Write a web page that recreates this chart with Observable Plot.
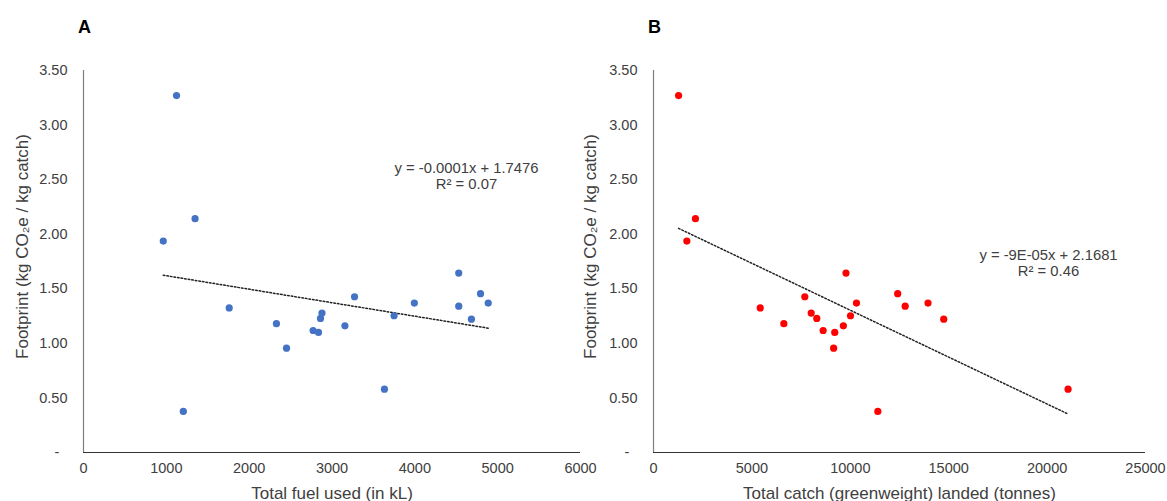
<!DOCTYPE html>
<html>
<head>
<meta charset="utf-8">
<script src="https://cdn.jsdelivr.net/npm/d3@7"></script>
<script src="https://cdn.jsdelivr.net/npm/@observablehq/plot@0.6"></script>
<style>
  html, body { margin: 0; padding: 0; background: #fff; }
  #wrap { display: flex; width: 1167px; height: 501px; }
  svg { overflow: visible; }
</style>
</head>
<body>
<div id="wrap"><div id="a"></div><div id="b"></div></div>
<script>
// Footprint (kg CO2e / kg catch) per fishery
const footprint   = [3.27, 1.937, 2.142, 0.376, 1.325, 1.18, 0.956, 1.118, 1.10, 1.228, 1.277, 1.161, 1.427, 0.58, 1.253, 1.369, 1.644, 1.341, 1.222, 1.455, 1.369];
// Panel A: total fuel used (kL)
const fuelUsed    = [1123, 963, 1347, 1205, 1759, 2329, 2451, 2772, 2837, 2861, 2879, 3156, 3272, 3633, 3749, 3994, 4530, 4530, 4683, 4793, 4886];
// Panel B: total catch (greenweight) landed (tonnes)
const catchLanded = [1275, 1694, 2131, 11399, 5424, 6623, 9153, 8620, 9210, 8297, 8012, 9648, 7688, 21066, 10010, 13949, 9781, 12788, 14748, 12408, 10314];

const fuelTicks = [0, 1000, 2000, 3000, 4000, 5000, 6000];
const catchTicks = [0, 5000, 10000, 15000, 20000, 25000];
const footprintTicks = [0, 0.5, 1, 1.5, 2, 2.5, 3, 3.5];

const panelLabels = ["A", "B"];
const xTitles = ["Total fuel used (in kL)", "Total catch (greenweight) landed (tonnes)"];
const yTitle = "Footprint (kg CO\u2082e / kg catch)";
const equations = ["y = -0.0001x + 1.7476\nR\u00b2 = 0.07", "y = -9E-05x + 2.1681\nR\u00b2 = 0.46"];

const dataA = fuelUsed.map((x, i) => ({x, y: footprint[i]}));
const dataB = catchLanded.map((x, i) => ({x, y: footprint[i]}));

const TEXT = "#404040";

function panel({data, xTicks, width, marginLeft, marginRight, color, label, xTitle, eq, eqDx, eqDy, yTitleDx}) {
  return Plot.plot({
    width, height: 501,
    marginLeft, marginRight, marginTop: 70, marginBottom: 49,
    style: {fontFamily: "'Liberation Sans', Arial, sans-serif", fontSize: "14.5px", color: TEXT, background: "transparent", overflow: "visible"},
    x: {domain: [xTicks[0], xTicks[xTicks.length - 1]]},
    y: {domain: [0, 3.5]},
    marks: [
      Plot.axisX({ticks: xTicks, tickSize: 0, tickPadding: 10, tickFormat: d => String(d), label: null, fill: TEXT, fontSize: 14.5}),
      Plot.axisY({ticks: footprintTicks, tickSize: 0, tickPadding: 16, tickFormat: d => d === 0 ? "-\u00a0\u00a0" : d.toFixed(2), label: null, fill: TEXT, fontSize: 14.5}),
      Plot.ruleX([0], {stroke: "#7f7f7f", strokeWidth: 1.2}),
      Plot.ruleY([0], {stroke: "#333", strokeWidth: 1.2}),
      Plot.linearRegressionY(data, {x: "x", y: "y", ci: 0, stroke: "#222", strokeWidth: 1.5, strokeDasharray: "1.6,2"}),
      Plot.dot(data, {x: "x", y: "y", r: 3.6, fill: color, stroke: null}),
      Plot.text([eq], {frameAnchor: "top-left", dx: eqDx, dy: eqDy, textAnchor: "middle", lineAnchor: "middle", lineHeight: 1.1, fill: TEXT, fontSize: 14.8}),
      Plot.text([xTitle], {frameAnchor: "bottom", dy: 41, lineAnchor: "middle", fill: TEXT, fontSize: 17}),
      Plot.text([yTitle], {frameAnchor: "left", dx: yTitleDx, dy: -15, rotate: -90, textAnchor: "middle", lineAnchor: "middle", fill: TEXT, fontSize: 17}),
      Plot.text([label], {frameAnchor: "top-left", dx: 1, dy: -43, textAnchor: "middle", lineAnchor: "middle", fill: "#000", fontSize: 18, fontWeight: "bold"})
    ]
  });
}

document.getElementById("a").append(panel({
  data: dataA, xTicks: fuelTicks, width: 584, marginLeft: 83, marginRight: 4,
  color: "#4472C4", label: panelLabels[0], xTitle: xTitles[0], eq: equations[0],
  eqDx: 383, eqDy: 105, yTitleDx: -61
}));
document.getElementById("b").append(panel({
  data: dataB, xTicks: catchTicks, width: 583, marginLeft: 69, marginRight: 22,
  color: "#FF0000", label: panelLabels[1], xTitle: xTitles[1], eq: equations[1],
  eqDx: 395, eqDy: 192, yTitleDx: -63
}));
</script>
</body>
</html>
